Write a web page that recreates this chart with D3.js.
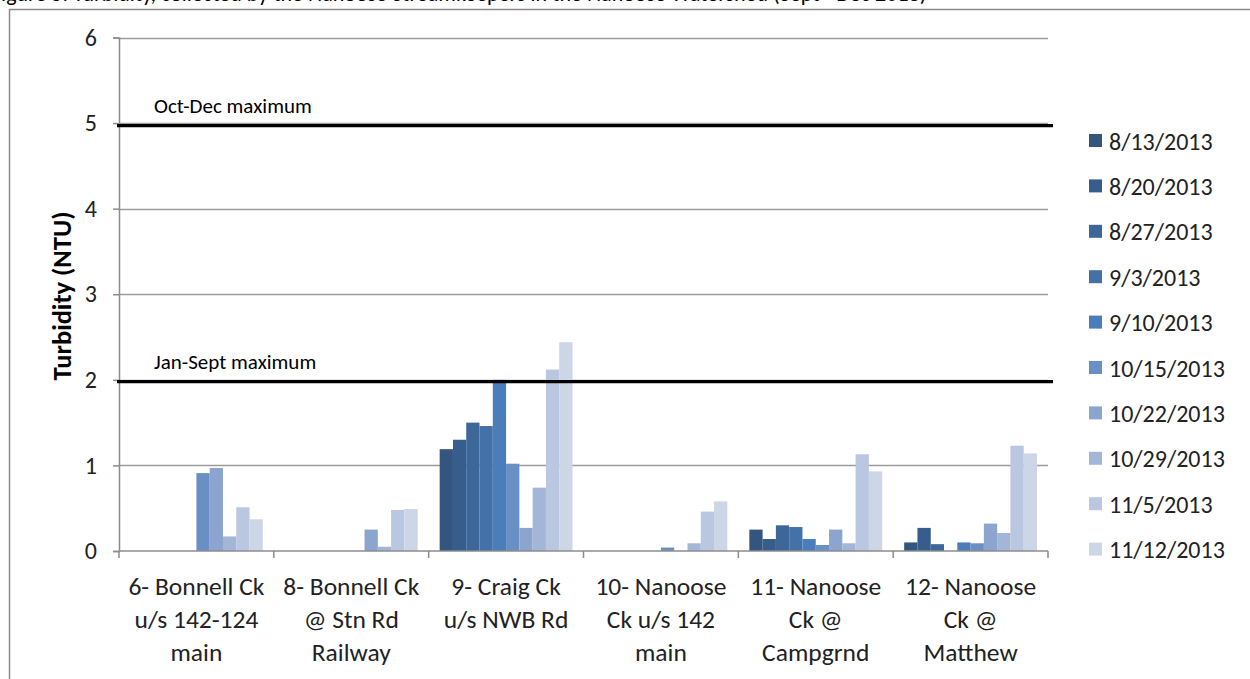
<!DOCTYPE html>
<html><head><meta charset="utf-8">
<script src="https://cdn.jsdelivr.net/npm/d3@7/dist/d3.min.js"></script>
<style>
body{margin:0;background:#fff;}
svg{display:block;font-family:Carlito,Lato,"Open Sans",sans-serif;}
</style></head>
<body>
<svg id="chart" width="1250" height="679"></svg>
<script>
const categories = [
  ["6- Bonnell Ck","u/s 142-124","main"],
  ["8- Bonnell Ck","@ Stn Rd","Railway"],
  ["9- Craig Ck","u/s NWB Rd"],
  ["10- Nanoose","Ck u/s 142","main"],
  ["11- Nanoose","Ck @","Campgrnd"],
  ["12- Nanoose","Ck @","Matthew"]
];
const seriesNames = ["8/13/2013","8/20/2013","8/27/2013","9/3/2013","9/10/2013","10/15/2013","10/22/2013","10/29/2013","11/5/2013","11/12/2013"];
const seriesColors = ["#33557F","#375D8D","#3D6699","#4371A8","#4A7DBA","#6890C5","#8BA5CE","#A3B6D8","#BAC7E0","#CDD6E7"];
// values per series, one per category (null = no sample)
const v_0813 = [null, null, 1.19, null, 0.25, 0.10];
const v_0820 = [null, null, 1.30, null, 0.14, 0.27];
const v_0827 = [null, null, 1.50, null, 0.30, 0.08];
const v_0903 = [null, null, 1.46, null, 0.28, null];
const v_0910 = [null, null, 2.00, null, 0.14, 0.10];
const v_1015 = [0.91, null, 1.02, 0.04, 0.07, 0.09];
const v_1022 = [0.97, 0.25, 0.27, null, 0.25, 0.32];
const v_1029 = [0.17, 0.05, 0.74, 0.09, 0.09, 0.21];
const v_1105 = [0.51, 0.48, 2.12, 0.46, 1.13, 1.23];
const v_1112 = [0.37, 0.49, 2.44, 0.58, 0.93, 1.14];
const seriesValues = [v_0813,v_0820,v_0827,v_0903,v_0910,v_1015,v_1022,v_1029,v_1105,v_1112];
const yTicks = [0,1,2,3,4,5,6];
const refLines = [{label:"Oct-Dec maximum", value:4.97},{label:"Jan-Sept maximum", value:1.98}];
const titleText = "Figure 5. Turbidity, collected by the Nanoose Streamkeepers in the Nanoose Watershed (Sept - Dec 2013)";

const svg = d3.select("#chart");
const L = 119, R = 1048, T = 37.5, B = 551;
const catIds = categories.map((c,i)=>i);
const x0 = d3.scaleBand().domain(catIds).range([L,R]).padding(0);
const x1 = d3.scaleBand().domain(seriesNames.map((s,i)=>i)).range([11, x0.bandwidth()-11]).padding(0);
const y = d3.scaleLinear().domain([0,6]).range([B,T]);

// title (clipped at top, as in the source)
svg.append("text").attr("x",-9).attr("y",1).attr("font-size",22).attr("fill","#000").text(titleText);
// frame
svg.append("rect").attr("x",9.5).attr("y",9.5).attr("width",1260).attr("height",700)
  .attr("fill","none").attr("stroke","#8a8a8a").attr("stroke-width",1.5);

// gridlines
svg.append("g").selectAll("line").data(yTicks.filter(t=>t>0)).join("line")
  .attr("x1",L).attr("x2",R).attr("y1",d=>Math.round(y(d))+0.5).attr("y2",d=>Math.round(y(d))+0.5)
  .attr("stroke","#9c9c9c").attr("stroke-width",1.5);

// y axis
const yAxis = svg.append("g").attr("transform",`translate(${L},0)`)
  .call(d3.axisLeft(y).tickValues(yTicks).tickSize(6).tickPadding(16).tickFormat(d3.format("d")));
yAxis.select(".domain").attr("stroke","#8c8c8c").attr("stroke-width",1.5);
yAxis.selectAll(".tick line").attr("stroke","#8c8c8c").attr("stroke-width",1.5);
yAxis.selectAll(".tick text").attr("font-size",24).attr("fill","#222").attr("font-family","Carlito,Lato,sans-serif");

// bars
const groups = svg.append("g").selectAll("g").data(catIds).join("g")
  .attr("transform",d=>`translate(${x0(d)},0)`);
groups.selectAll("rect").data(ci=>seriesValues.map((vals,si)=>({si, v: vals[ci]})).filter(d=>d.v!=null))
  .join("rect")
  .attr("x",d=>x1(d.si)).attr("width",x1.bandwidth())
  .attr("y",d=>y(d.v)).attr("height",d=>y(0)-y(d.v))
  .attr("fill",d=>seriesColors[d.si]);

// x axis
const xAxisG = svg.append("g");
xAxisG.append("line").attr("x1",L).attr("x2",R).attr("y1",B).attr("y2",B).attr("stroke","#8c8c8c").attr("stroke-width",1.5);
const bounds = catIds.map(i=>x0(i)).concat([R]);
xAxisG.selectAll("line.tk").data(bounds).join("line").attr("class","tk")
  .attr("x1",d=>d).attr("x2",d=>d).attr("y1",B).attr("y2",B+7).attr("stroke","#8c8c8c").attr("stroke-width",1.5);
const labels = xAxisG.selectAll("text").data(catIds).join("text")
  .attr("text-anchor","middle").attr("font-size",25.5).attr("fill","#222")
  .attr("x",d=>x0(d)+x0.bandwidth()/2);
labels.each(function(ci){
  const t = d3.select(this);
  categories[ci].forEach((line,li)=>{
    t.append("tspan").attr("x",x0(ci)+x0.bandwidth()/2).attr("y",595+li*33).text(line);
  });
});

// reference lines
refLines.forEach(r=>{
  svg.append("line").attr("x1",117).attr("x2",1053).attr("y1",y(r.value)).attr("y2",y(r.value))
    .attr("stroke","#000").attr("stroke-width",3.2);
  svg.append("text").attr("x",154).attr("y",y(r.value)-13).attr("font-size",21).attr("fill","#000").text(r.label);
});

// y title
svg.append("text").attr("transform","translate(71,296) rotate(-90)").attr("text-anchor","middle")
  .attr("font-size",26.5).attr("font-weight","bold").attr("fill","#000").text("Turbidity (NTU)");

// legend
const leg = svg.append("g").selectAll("g").data(seriesNames).join("g")
  .attr("transform",(d,i)=>`translate(1089,${141+i*45.4})`);
leg.append("rect").attr("x",0).attr("y",-7).attr("width",13).attr("height",13).attr("fill",(d,i)=>seriesColors[i]);
leg.append("text").attr("x",20).attr("y",8.5).attr("font-size",24).attr("fill","#222").text(d=>d);
</script>
</body></html>
